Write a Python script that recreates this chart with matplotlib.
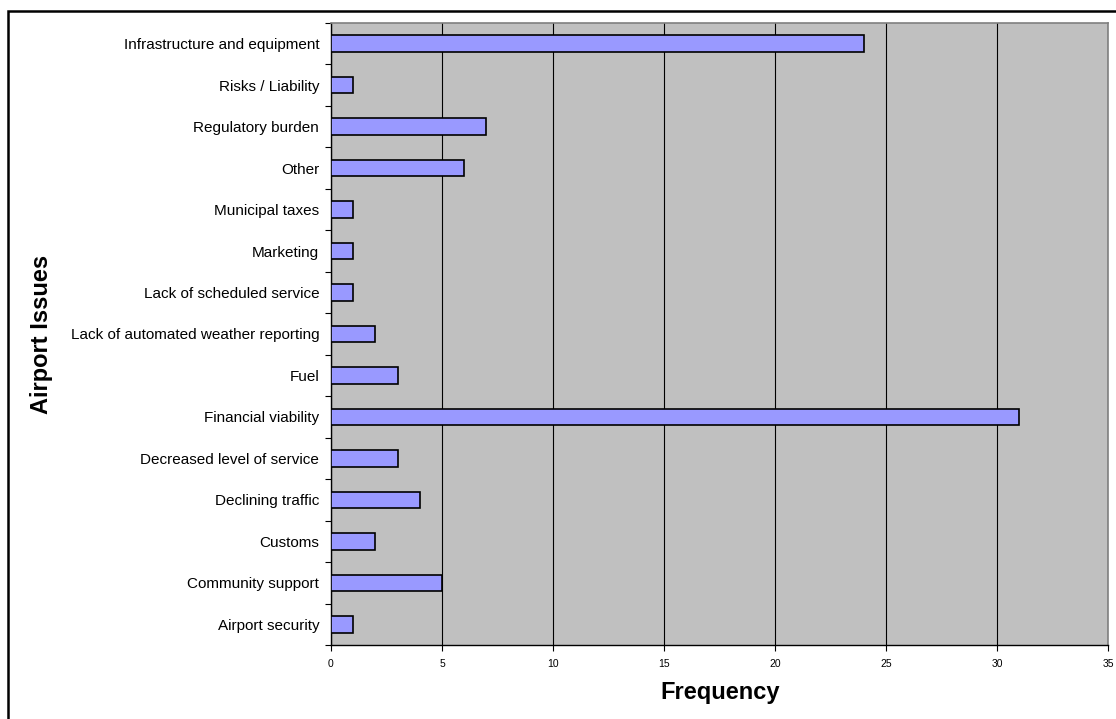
import matplotlib.pyplot as plt
from matplotlib.patches import Rectangle
import numpy as np

plt.rcParams['font.family'] = ['Liberation Sans', 'DejaVu Sans']

# issues listed from bottom to top of the chart
issues = [
    'Airport security',
    'Community support',
    'Customs',
    'Declining traffic',
    'Decreased level of service',
    'Financial viability',
    'Fuel',
    'Lack of automated weather reporting',
    'Lack of scheduled service',
    'Marketing',
    'Municipal taxes',
    'Other',
    'Regulatory burden',
    'Risks / Liability',
    'Infrastructure and equipment',
]
frequency = [1, 5, 2, 4, 3, 31, 3, 2, 1, 1, 1, 6, 7, 1, 24]
x_ticks = [0, 5, 10, 15, 20, 25, 30, 35]

fig = plt.figure(figsize=(11.16, 7.19), dpi=100)
ax = fig.add_axes([331 / 1116, 1 - 645 / 719, (1108 - 331) / 1116, (645 - 23) / 719])

ax.set_facecolor('#C0C0C0')
ypos = np.arange(len(issues))
ax.barh(ypos, frequency, height=0.4, color='#9999FF', edgecolor='black',
        linewidth=1.2, zorder=3)

ax.set_xlim(0, 35)
ax.set_ylim(-0.5, len(issues) - 0.5)
ax.set_xticks(x_ticks)
ax.set_xticklabels([str(t) for t in x_ticks], fontsize=7.5)
ax.xaxis.grid(True, color='black', linewidth=0.8, zorder=1)
ax.set_axisbelow(True)

# category boundaries get the tick marks, centres get the labels
ax.set_yticks(np.arange(-0.5, len(issues)), minor=False)
ax.set_yticklabels([])
ax.set_yticks(ypos, minor=True)
ax.set_yticklabels(issues, minor=True, fontsize=11)
ax.tick_params(axis='y', which='major', direction='out', length=4, width=0.8)
ax.tick_params(axis='y', which='minor', length=0, pad=8.5)
ax.tick_params(axis='x', direction='out', length=4, width=0.8, pad=6)

for side in ['top', 'right']:
    ax.spines[side].set_color('#808080')
    ax.spines[side].set_linewidth(1.2)
for side in ['left', 'bottom']:
    ax.spines[side].set_color('black')
    ax.spines[side].set_linewidth(1.0)

fig.text(720 / 1116, 1 - 693 / 719, 'Frequency', ha='center', va='center',
         fontsize=17, fontweight='bold')
fig.text(42 / 1116, 1 - 334 / 719, 'Airport Issues', ha='center', va='center',
         rotation=90, fontsize=17, fontweight='bold')

# outer chart frame, running off the right and bottom edges
fig.patches.append(Rectangle((7.5 / 1116, -0.2), 1.2, 1 - 10.5 / 719 + 0.2,
                             transform=fig.transFigure, fill=False,
                             edgecolor='black', linewidth=1.8))

fig.savefig('out.png', dpi=100)
